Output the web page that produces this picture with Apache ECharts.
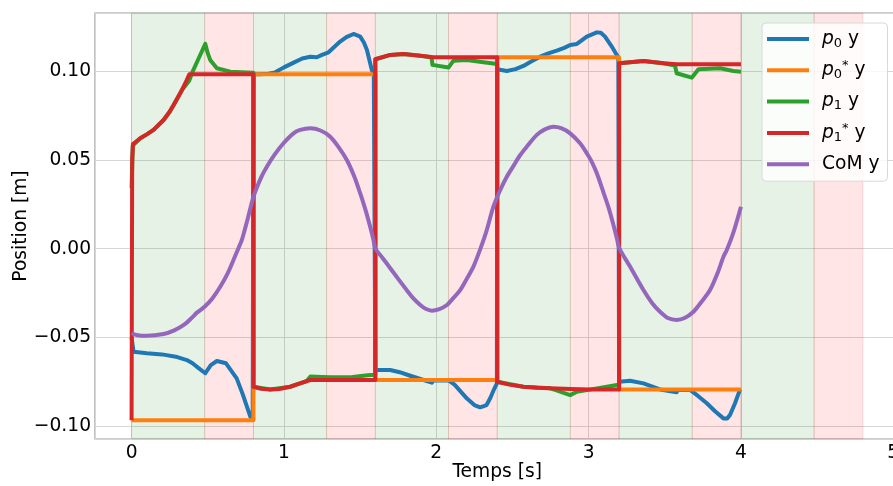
<!DOCTYPE html>
<html>
<head>
<meta charset="utf-8">
<script src="https://cdn.jsdelivr.net/npm/echarts@6/dist/echarts.min.js"></script>
<style>
html,body{margin:0;padding:0;background:#fff;}
#chart{width:893px;height:486px;}
</style>
</head>
<body>
<div id="chart"></div>
<script>
// ---- data (time [s], position [m]) ----
const stanceStart = [0, 0.8, 1.6, 2.4, 3.2, 4.0];
const stanceEnd   = [0.48, 1.28, 2.08, 2.88, 3.68, 4.48];
const swingStart  = [0.48, 1.28, 2.08, 2.88, 3.68, 4.48];
const swingEnd    = [0.8, 1.6, 2.4, 3.2, 4.0, 4.8];

const p0Y = [
 [0,-0.050],[0.013,-0.058],[0.1,-0.0588],[0.2,-0.0595],[0.3,-0.0610],[0.363,-0.0627],[0.37,-0.0622],
 [0.40,-0.0645],[0.44,-0.0672],[0.484,-0.0701],[0.52,-0.0655],[0.56,-0.0632],[0.62,-0.0645],[0.69,-0.073],
 [0.73,-0.082],[0.78,-0.0946],[0.795,-0.0962],[0.8,0.0981],
 [0.84,0.0981],[0.9,0.0984],[0.943,0.0992],[1.0,0.102],[1.064,0.1047],[1.12,0.107],[1.173,0.108],[1.216,0.1077],
 [1.25,0.109],[1.293,0.1105],[1.33,0.1135],[1.369,0.1165],[1.41,0.119],[1.457,0.1208],[1.501,0.1193],
 [1.525,0.116],[1.545,0.1118],[1.577,0.1005],[1.59,0.0985],[1.6,-0.0683],
 [1.61,-0.0683],[1.698,-0.0683],[1.76,-0.0695],[1.829,-0.0715],[1.916,-0.0739],[1.971,-0.0754],[1.98,-0.0742],
 [2.08,-0.0741],[2.12,-0.0765],[2.2,-0.0842],[2.25,-0.088],[2.288,-0.0893],[2.33,-0.088],[2.354,-0.0842],
 [2.38,-0.079],[2.398,-0.0758],[2.4,0.1009],
 [2.463,0.1000],[2.52,0.1010],[2.572,0.1028],[2.62,0.1052],[2.682,0.108],[2.74,0.110],[2.791,0.1114],
 [2.84,0.113],[2.879,0.1146],[2.923,0.1152],[2.988,0.1193],[3.054,0.1217],[3.08,0.1215],[3.108,0.1193],
 [3.152,0.1137],[3.185,0.109],[3.195,0.1077],[3.2,-0.0749],
 [3.207,-0.0749],[3.272,-0.0743],[3.36,-0.0758],[3.469,-0.0792],[3.578,-0.0808],[3.585,-0.0795],[3.666,-0.0795],
 [3.72,-0.083],[3.776,-0.087],[3.83,-0.0915],[3.885,-0.0955],[3.91,-0.0955],[3.928,-0.0936],[3.961,-0.087],[3.994,-0.0792]
];

const p0RefY = [
 [0,-0.0965],[0.8,-0.0965],[0.8,0.0981],[1.6,0.0981],[1.6,-0.0739],[2.4,-0.0739],
 [2.4,0.1077],[3.2,0.1077],[3.2,-0.0792],[4.0,-0.0792]
];

const p1Y = [
 [0,0.034],[0.008,0.058],[0.057,0.0621],[0.1,0.0643],[0.144,0.0668],[0.21,0.0724],[0.25,0.0770],[0.276,0.0808],
 [0.30,0.0845],[0.331,0.0893],[0.378,0.0945],[0.40,0.0995],[0.44,0.107],[0.484,0.1152],[0.50,0.110],
 [0.516,0.1062],[0.56,0.1015],[0.648,0.0996],[0.8,0.099],[0.8,-0.0777],
 [0.91,-0.0792],[1.041,-0.0777],[1.15,-0.0745],[1.173,-0.072],[1.25,-0.0722],[1.304,-0.0724],[1.45,-0.0722],
 [1.55,-0.0712],[1.6,-0.071],[1.6,0.1066],
 [1.698,0.109],[1.785,0.1095],[1.895,0.1086],[1.965,0.1077],[1.971,0.1062],[1.975,0.1034],[2.08,0.1019],
 [2.113,0.1058],[2.2,0.1062],[2.31,0.1049],[2.4,0.1039],[2.4,-0.0749],
 [2.572,-0.0777],[2.747,-0.0786],[2.78,-0.0795],[2.879,-0.0824],[2.923,-0.0805],[3.054,-0.0786],[3.185,-0.0767],
 [3.2,-0.0765],[3.2,0.1043],
 [3.36,0.1056],[3.491,0.1043],[3.567,0.1030],[3.578,0.0987],[3.677,0.0962],[3.721,0.1009],[3.863,0.1015],
 [3.95,0.1000],[4.0,0.0996]
];

const p1RefY = [
 [0,-0.0965],[0.004,0.050],[0.009,0.0589],[0.057,0.0621],[0.1,0.0643],[0.144,0.0668],[0.21,0.0724],[0.25,0.0770],
 [0.276,0.0808],[0.30,0.0845],[0.331,0.0893],[0.355,0.0935],[0.379,0.0981],[0.8,0.0981],[0.8,-0.0777],
 [0.85,-0.0788],[0.91,-0.0792],[0.97,-0.0790],[1.041,-0.0777],[1.1,-0.0760],[1.173,-0.0739],[1.6,-0.0739],
 [1.6,0.1066],[1.698,0.109],[1.785,0.1095],[1.895,0.1086],[1.982,0.1077],[2.4,0.1077],
 [2.4,-0.0749],[2.48,-0.0765],[2.572,-0.0777],[2.66,-0.0783],[2.747,-0.0786],[2.88,-0.079],[3.01,-0.0792],[3.2,-0.0792],
 [3.2,0.1043],[3.36,0.1056],[3.491,0.1043],[3.578,0.1037],[4.0,0.1037]
];

const comY = [
 [0,-0.0476],[0.04,-0.0487],[0.1,-0.049],[0.21,-0.048],[0.28,-0.046],[0.35,-0.0425],[0.40,-0.0385],[0.429,-0.036],
 [0.479,-0.0327],[0.53,-0.028],[0.582,-0.0214],[0.63,-0.014],[0.669,-0.0064],[0.70,0.000],[0.724,0.0049],
 [0.76,0.016],[0.8,0.0292],[0.85,0.040],[0.888,0.0461],[0.94,0.053],[0.997,0.0593],[1.063,0.0649],
 [1.107,0.0668],[1.173,0.0677],[1.24,0.0665],[1.304,0.063],[1.36,0.057],[1.413,0.0499],[1.46,0.041],
 [1.501,0.0311],[1.535,0.022],[1.566,0.0124],[1.588,0.0049],[1.60,0.0002],[1.65,-0.0055],[1.698,-0.0110],
 [1.75,-0.0170],[1.808,-0.0235],[1.85,-0.028],[1.895,-0.0317],[1.93,-0.0338],[1.971,-0.0349],[2.02,-0.034],
 [2.07,-0.0317],[2.11,-0.028],[2.157,-0.0233],[2.2,-0.017],[2.244,-0.0101],[2.29,0.0],[2.33,0.010],
 [2.375,0.0236],[2.42,0.033],[2.463,0.0405],[2.51,0.047],[2.551,0.0527],[2.6,0.058],[2.66,0.064],
 [2.71,0.067],[2.769,0.0686],[2.82,0.0678],[2.879,0.0649],[2.944,0.0593],[2.988,0.0537],[3.02,0.049],
 [3.054,0.0424],[3.10,0.031],[3.135,0.022],[3.166,0.0124],[3.188,0.0049],[3.2,0.0005],[3.272,-0.0101],
 [3.36,-0.0233],[3.42,-0.031],[3.469,-0.0355],[3.52,-0.039],[3.578,-0.0401],[3.63,-0.039],[3.688,-0.0355],
 [3.74,-0.030],[3.797,-0.0233],[3.85,-0.013],[3.885,-0.0045],[3.907,-0.0008],[3.95,0.009],[4.0,0.0236]
];

const seriesNames = ['p0 y', 'p0* y', 'p1 y', 'p1* y', 'CoM y'];
const legendLabels = {
  'p0 y':  '{s|}{p|p}{sub|0}{n| y}',
  'p0* y': '{s|}{p|p}{sub|0}{sup|*}{n| y}',
  'p1 y':  '{s|}{p|p}{sub|1}{n| y}',
  'p1* y': '{s|}{p|p}{sub|1}{sup|*}{n| y}',
  'CoM y': '{s|}{n|CoM y}'
};
const xLimits = [-0.24, 5.04];
const yLimits = [-0.1071, 0.1326];

// ---- chart ----
const FONT = 'DejaVu Sans';
const FS = 18.67;
const chart = echarts.init(document.getElementById('chart'), null, {renderer: 'canvas'});

const greenBands = stanceStart.map((s, i) => [{xAxis: s}, {xAxis: stanceEnd[i]}]);
const redBands = swingStart.map((s, i) => [{xAxis: s}, {xAxis: swingEnd[i]}]);

function lineSeries(name, data, color, z, smooth) {
  return {
    name: name, type: 'line', data: data, showSymbol: false, symbol: 'none',
    smooth: smooth || false, z: z,
    lineStyle: {color: color, width: 4, cap: 'butt', join: 'round'},
    itemStyle: {color: color},
    emphasis: {disabled: true}, animation: false
  };
}

const option = {
  backgroundColor: '#ffffff',
  animation: false,
  textStyle: {fontFamily: FONT},
  grid: {left: 95, top: 13, width: 804.4, height: 426, show: true,
         outerBoundsMode: 'none', containLabel: false,
         borderColor: '#9a9a9a', borderWidth: 1.2, backgroundColor: 'transparent'},
  xAxis: {
    type: 'value', min: xLimits[0], max: xLimits[1], splitNumber: 5,
    name: 'Temps [s]', nameLocation: 'middle', nameGap: 24, nameMoveOverlap: false,
    nameTextStyle: {fontFamily: FONT, fontSize: FS, color: '#000'},
    axisLine: {show: false, onZero: false},
    axisTick: {show: false},
    axisLabel: {fontFamily: FONT, fontSize: FS, color: '#000', margin: 5,
                showMinLabel: false, showMaxLabel: false,
                formatter: v => String(Math.round(v))},
    splitLine: {show: true, lineStyle: {color: '#d6d6d6', width: 1}}
  },
  yAxis: {
    type: 'value', min: yLimits[0], max: yLimits[1], splitNumber: 5,
    name: 'Position [m]', nameLocation: 'middle', nameGap: 64, nameMoveOverlap: false,
    nameTextStyle: {fontFamily: FONT, fontSize: FS, color: '#000'},
    axisLine: {show: false, onZero: false},
    axisTick: {show: false},
    axisLabel: {fontFamily: FONT, fontSize: FS, color: '#000', margin: 4,
                showMinLabel: false, showMaxLabel: false,
                formatter: v => {
                  const r = Math.round(v * 100) / 100;
                  if (Math.abs(r) < 1e-9) return '0.00';
                  return (r < 0 ? '\u2212' : '') + Math.abs(r).toFixed(2);
                }},
    splitLine: {show: true, lineStyle: {color: '#d6d6d6', width: 1}}
  },
  legend: {
    data: seriesNames, orient: 'vertical', left: 762, top: 23,
    itemWidth: 42, itemHeight: 4, itemGap: 9.3, icon: 'rect',
    padding: [5, 8, 6, 5],
    backgroundColor: 'rgba(255,255,255,0.82)', borderColor: '#d8d8d8', borderWidth: 1, borderRadius: 4,
    formatter: name => legendLabels[name],
    selectedMode: false,
    textStyle: {
      fontFamily: FONT, fontSize: FS, color: '#000', lineHeight: 22,
      rich: {
        s: {width: 8, lineHeight: 22},
        p: {fontFamily: FONT, fontSize: FS, fontStyle: 'italic', color: '#000', lineHeight: 22, verticalAlign: 'middle'},
        n: {fontFamily: FONT, fontSize: FS, color: '#000', lineHeight: 22, verticalAlign: 'middle'},
        sub: {fontFamily: FONT, fontSize: 13, color: '#000', lineHeight: 14, verticalAlign: 'bottom'},
        sup: {fontFamily: FONT, fontSize: 13, color: '#000', lineHeight: 13, verticalAlign: 'top'}
      }
    }
  },
  series: [
    {
      name: 'bands', type: 'line', data: [], z: 1, silent: true,
      markArea: {
        silent: true,
        data: greenBands.map(b => [Object.assign({itemStyle: {color: 'rgba(0,128,0,0.1)', borderColor: 'rgba(0,128,0,0.12)', borderWidth: 1}}, b[0]), b[1]])
          .concat(redBands.map(b => [Object.assign({itemStyle: {color: 'rgba(255,0,0,0.1)', borderColor: 'rgba(200,0,0,0.12)', borderWidth: 1}}, b[0]), b[1]]))
      }
    },
    lineSeries(seriesNames[0], p0Y, '#1f77b4', 3),
    lineSeries(seriesNames[1], p0RefY, '#ff7f0e', 4),
    lineSeries(seriesNames[2], p1Y, '#2ca02c', 5),
    lineSeries(seriesNames[3], p1RefY, '#d62728', 6),
    lineSeries(seriesNames[4], comY, '#9467bd', 7, 0.3)
  ]
};
chart.setOption(option);
</script>
</body>
</html>
